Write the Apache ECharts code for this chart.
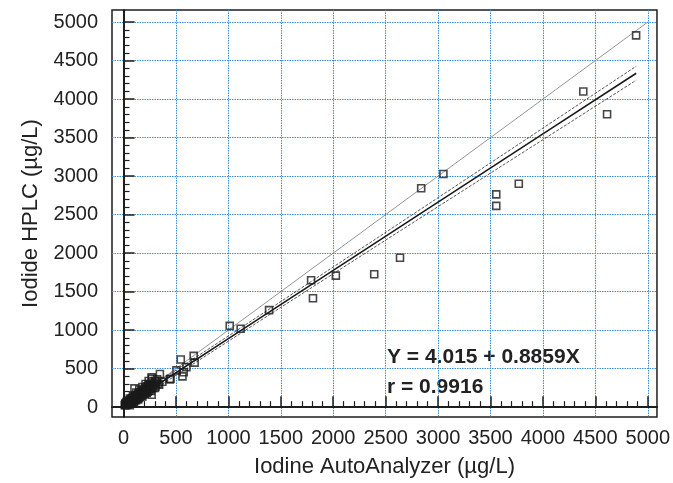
<!DOCTYPE html>
<html>
<head>
<meta charset="utf-8">
<script src="https://cdn.jsdelivr.net/npm/echarts@6/dist/echarts.min.js"></script>
<style>
  html, body { margin: 0; padding: 0; background: #fff; }
  #main { width: 673px; height: 483px; }
</style>
</head>
<body>
<div id="main"></div>
<script>
// AutoAnalyzer values (x) and HPLC values (y)
const aaValues = [
  12, 15, 18, 20, 22, 25, 28, 30, 32, 35, 38, 40, 42, 45, 48, 50, 52, 55, 58, 60,
  62, 65, 68, 70, 72, 75, 78, 80, 82, 85, 88, 90, 95, 98, 100, 105, 108, 110, 115, 118,
  120, 125, 128, 130, 135, 140, 142, 148, 150, 155, 160, 165, 170, 175, 180, 185, 190, 195, 200, 205,
  210, 215, 220, 225, 230, 235, 240, 245, 250, 255, 260, 270, 275, 280, 290, 300, 305, 315, 320, 330,
  30, 60, 90, 120, 150, 180, 210, 240, 270,
  60, 100, 140, 180, 220, 260, 300, 340, 370,
  104, 268, 347, 268, 442, 448, 505, 546, 562, 574, 600, 669, 678,
  1013, 1117, 1388, 1789, 1807, 2025, 2391, 2637, 2839, 3051, 3555, 3555, 3770, 4385, 4612, 4889
];
const hplcValues = [
  25, 40, 30, 50, 35, 45, 30, 55, 40, 60, 45, 70, 50, 38, 65, 80, 55, 45, 75, 90,
  60, 70, 100, 55, 85, 95, 65, 110, 75, 90, 120, 70, 100, 130, 85, 115, 95, 140, 105, 150,
  90, 125, 160, 110, 140, 175, 120, 150, 190, 130, 165, 200, 145, 180, 215, 160, 195, 230, 175, 210,
  250, 190, 230, 270, 200, 250, 290, 215, 265, 300, 235, 285, 320, 250, 300, 340, 270, 320, 360, 300,
  70, 110, 150, 190, 230, 260, 300, 340, 370,
  25, 60, 100, 140, 180, 210, 250, 290, 330,
  244, 160, 430, 389, 360, 368, 477, 618, 400, 453, 520, 666, 578,
  1055, 1017, 1260, 1648, 1414, 1708, 1725, 1939, 2843, 3028, 2763, 2613, 2900, 4098, 3804, 4828
];

// line of identity
const identityX = [0, 5000];
const identityY = [0, 5000];

// regression Y = 4.015 + 0.8859X with its confidence band
const bandX = [10, 500, 1000, 2000, 3000, 4000, 4890];
const fitY = [13, 447, 890, 1776, 2662, 3548, 4336];
const upperY = [47, 480, 924, 1820, 2720, 3623, 4427];
const lowerY = [-21, 414, 856, 1732, 2604, 3473, 4245];

const majorTicks = [0, 500, 1000, 1500, 2000, 2500, 3000, 3500, 4000, 4500, 5000];
const minorTicks = [];
for (let v = 0; v <= 5000; v += 100) {
  if (v % 500 !== 0) minorTicks.push(v);
}

const zip = (xs, ys) => xs.map((x, i) => [x, ys[i]]);

const font = 'Liberation Sans, Arial, sans-serif';
const axisColor = '#1e1e1e';
const gridBlue = '#3a90d8';

function labelStyle(margin) {
  return {
    customValues: majorTicks, color: '#222', fontFamily: font, fontSize: 20, margin: margin,
    formatter: (v) => String(v)
  };
}

function majorAxis(min, max, extra) {
  return Object.assign({
    type: 'value',
    min: min,
    max: max,
    axisLine: { show: true, lineStyle: { color: axisColor, width: 2 } },
    axisTick: { show: true, inside: true, length: 11, customValues: majorTicks,
      lineStyle: { color: axisColor, width: 1.5 } },
    splitLine: { show: true, lineStyle: { color: gridBlue, width: 1, type: [1.5, 1] } },
    nameTextStyle: { color: '#222', fontFamily: font, fontSize: 22 }
  }, extra);
}

function minorAxis(min, max, position) {
  return {
    type: 'value',
    min: min,
    max: max,
    position: position,
    axisLine: { show: false },
    axisTick: { show: true, inside: true, length: 6, customValues: minorTicks,
      lineStyle: { color: axisColor, width: 1.2 } },
    axisLabel: { show: false },
    splitLine: { show: false }
  };
}

const chart = echarts.init(document.getElementById('main'));
chart.setOption({
  animation: false,
  backgroundColor: '#fff',
  grid: {
    left: 112, right: 12, top: 10, bottom: 60,
    show: true, borderColor: axisColor, borderWidth: 1.5, backgroundColor: 'transparent'
  },
  xAxis: [
    majorAxis(-110, 5088, {
      position: 'bottom',
      name: 'Iodine AutoAnalyzer (\u00b5g/L)', nameLocation: 'middle', nameGap: 39,
      axisLabel: labelStyle(11)
    }),
    minorAxis(-110, 5088, 'bottom')
  ],
  yAxis: [
    majorAxis(-128, 5157, {
      position: 'left',
      name: 'Iodide HPLC (\u00b5g/L)', nameLocation: 'middle', nameGap: 70,
      axisLabel: labelStyle(14)
    }),
    minorAxis(-128, 5157, 'left')
  ],
  graphic: [
    { type: 'text', left: 387, top: 347, style: { text: 'Y = 4.015 + 0.8859X',
      font: 'bold 21px ' + font, fill: '#222' } },
    { type: 'text', left: 387, top: 377, style: { text: 'r = 0.9916',
      font: 'bold 21px ' + font, fill: '#222' } }
  ],
  series: [
    {
      type: 'line', data: zip(identityX, identityY), showSymbol: false,
      lineStyle: { color: '#7a7a7a', width: 0.8 }, z: 2
    },
    {
      type: 'line', data: zip(bandX, upperY), showSymbol: false, smooth: true,
      lineStyle: { color: '#444', width: 0.9, type: [3, 1.5] }, z: 2
    },
    {
      type: 'line', data: zip(bandX, lowerY), showSymbol: false, smooth: true,
      lineStyle: { color: '#444', width: 0.9, type: [3, 1.5] }, z: 2
    },
    {
      type: 'line', data: zip(bandX, fitY), showSymbol: false,
      lineStyle: { color: '#1a1a1a', width: 1.6 }, z: 3
    },
    {
      type: 'scatter', data: zip(aaValues, hplcValues),
      symbol: 'rect', symbolSize: 7,
      itemStyle: { color: 'rgba(255,255,255,0)', borderColor: '#1a1a1a', borderWidth: 1.6 },
      z: 4
    }
  ]
});
</script>
</body>
</html>
